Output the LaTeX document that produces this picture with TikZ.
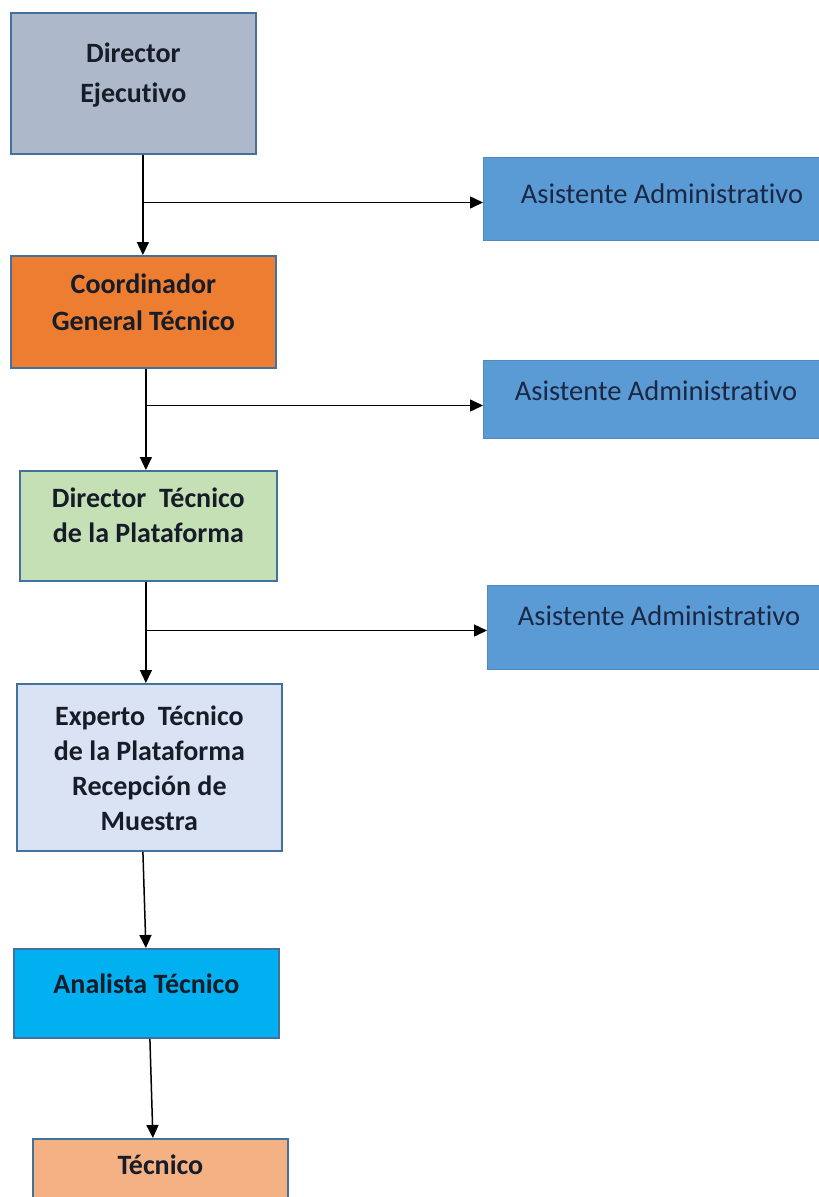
\documentclass[tikz,border=0pt]{standalone}
\usepackage{fontspec}
\setmainfont{Carlito}[Ligatures=NoCommon]
\usetikzlibrary{arrows.meta,positioning}

\definecolor{boxline}{HTML}{41719C}
\definecolor{dirfill}{HTML}{ADB9CA}
\definecolor{coordfill}{HTML}{ED7D31}
\definecolor{dtecfill}{HTML}{C5E0B4}
\definecolor{expfill}{HTML}{DAE3F3}
\definecolor{anafill}{HTML}{00B0F0}
\definecolor{tecfill}{HTML}{F4B183}
\definecolor{asisfill}{HTML}{5B9BD5}
\definecolor{txtdark}{HTML}{161C28}
\definecolor{txtnavy}{HTML}{1A2844}

\tikzset{
  box/.style={draw=boxline, line width=1.8pt, anchor=north west, inner sep=0pt},
  asis/.style={fill=asisfill, draw=asisfill!88!black, line width=1pt, anchor=north west,
    inner sep=0pt, minimum width=350pt},
  lbl/.style={align=center, text=txtdark, font=\bfseries\fontsize{28}{35}\selectfont},
  albl/.style={text=txtnavy, font=\fontsize{28.5}{32}\selectfont},
  link/.style={line width=1.5pt, -{Triangle[length=13pt,width=12pt]}}
}

\begin{document}
\begin{tikzpicture}[x=1pt, y=-1pt]

    \useasboundingbox[fill=white] (0,0) rectangle (819,1197);

    % main chain
    \node[box, fill=dirfill, minimum width=245pt, minimum height=141pt] (dirEj) at (10,12) {};
    \node[box, fill=coordfill, minimum width=265pt, minimum height=112pt] (coordGT) at (10,255) {};
    \node[box, fill=dtecfill, minimum width=257pt, minimum height=110pt] (dirTec) at (19,470) {};
    \node[box, fill=expfill, minimum width=265pt, minimum height=167pt] (expTec) at (16,683) {};
    \node[box, fill=anafill, minimum width=265pt, minimum height=89pt] (anaTec) at (13,948) {};
    \node[box, fill=tecfill, minimum width=255pt, minimum height=80pt] (tec) at (32,1138) {};

    % assistants
    \node[asis, minimum height=83pt] (asis1) at (483,157) {};
    \node[asis, minimum height=78pt] (asis2) at (483,360) {};
    \node[asis, minimum height=84pt] (asis3) at (487,585) {};

    % texts
    \node[lbl, font=\bfseries\fontsize{28}{40}\selectfont] (tDirEj) at ([yshift=8pt]dirEj.center) {Director\\Ejecutivo};
    \node[lbl, font=\bfseries\fontsize{28}{37}\selectfont] (tCoordGT) at ([yshift=10pt]coordGT.center) {Coordinador\\General T\'ecnico};
    \node[lbl] (tDirTec) at ([yshift=11pt]dirTec.center) {Director\ \ T\'ecnico\\de la Plataforma};
    \node[lbl] (tExpTec) at ([yshift=-1pt]expTec.center) {Experto\ \ T\'ecnico\\de la Plataforma\\Recepci\'on de\\Muestra};
    \node[lbl] (tAnaTec) at ([yshift=10pt]anaTec.center) {Analista T\'ecnico};
    \node[lbl] (tTec) at ([yshift=-27pt]tec.north) {T\'ecnico};
    \node[albl] (tAsis1) at ([xshift=179pt,yshift=5pt]asis1.west) {Asistente Administrativo};
    \node[albl] (tAsis2) at ([xshift=173pt,yshift=9pt]asis2.west) {Asistente Administrativo};
    \node[albl] (tAsis3) at ([xshift=172pt,yshift=12pt]asis3.west) {Asistente Administrativo};

    % links down
    \draw[link] ([xshift=9.5pt]dirEj.south) -- ([xshift=9.5pt]dirEj.south |- coordGT.north);
    \draw[link] ([xshift=2.5pt]coordGT.south) -- ([xshift=2.5pt]coordGT.south |- dirTec.north);
    \draw[link] ([xshift=-2.5pt]dirTec.south) -- ([xshift=-2.5pt]dirTec.south |- expTec.north);
    \draw[link] ([xshift=-6.5pt]expTec.south) -- ([xshift=-0.5pt]anaTec.north);
    \draw[link] ([xshift=3.5pt]anaTec.south) -- ([xshift=-7.5pt]tec.north);

    % links to assistants
    \draw[link] ([xshift=9.5pt,yshift=-3.5pt]dirEj.south |- asis1.west) -- ([yshift=-3.5pt]asis1.west);
    \draw[link] ([xshift=2.5pt,yshift=-6pt]coordGT.south |- asis2.west) -- ([yshift=-6pt]asis2.west);
    \draw[link] ([xshift=-2.5pt,yshift=-3pt]dirTec.south |- asis3.west) -- ([yshift=-3pt]asis3.west);
\end{tikzpicture}
\end{document}
